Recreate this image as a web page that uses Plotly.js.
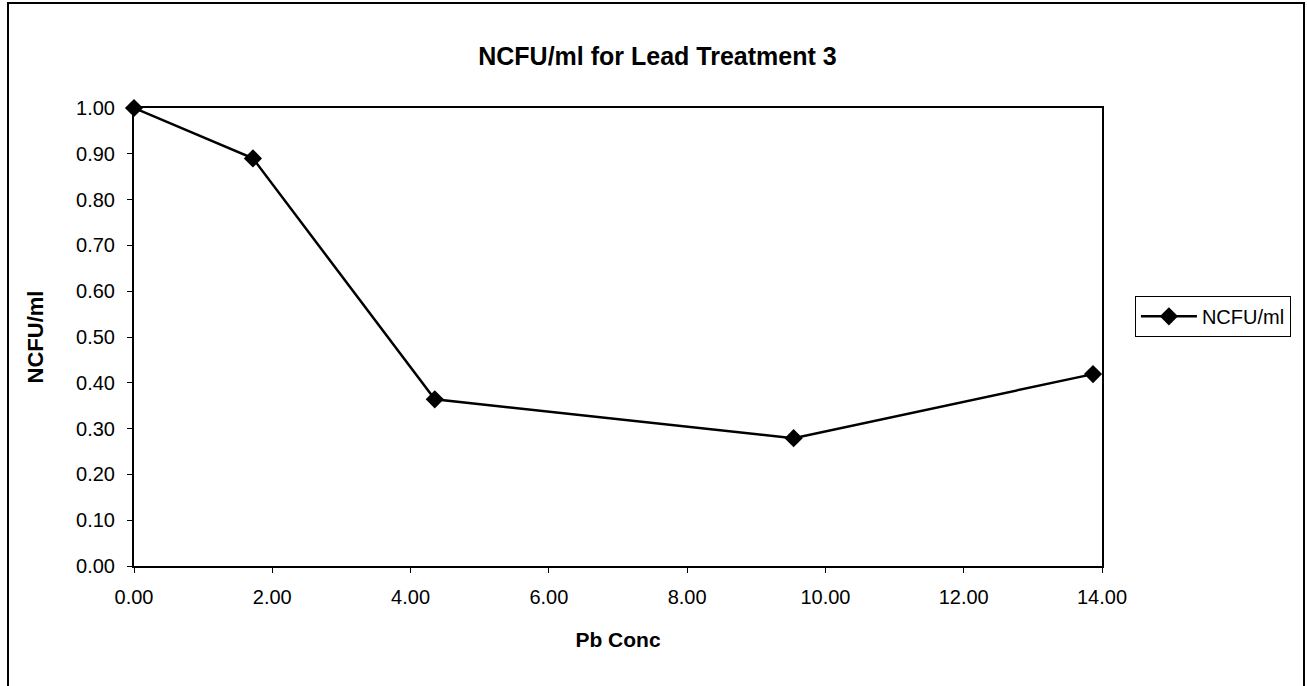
<!DOCTYPE html>
<html>
<head>
<meta charset="utf-8">
<script src="https://cdn.plot.ly/plotly-3.0.1.min.js"></script>
<style>html,body{margin:0;padding:0;background:#fff;}#chart{width:1307px;height:686px;}</style>
</head>
<body>
<div id="chart"></div>
<script>
const seriesName = "NCFU/ml";
const pbConc = [0.00, 1.72, 4.35, 9.54, 13.87];
const ncfu = [1.00, 0.89, 0.364, 0.279, 0.419];
const chartTitle = "NCFU/ml for Lead Treatment 3";
const xTitle = "Pb Conc";
const yTitle = "NCFU/ml";

const FONT = '"Liberation Sans", Arial, sans-serif';

const trace = {
  x: pbConc, y: ncfu, type: 'scatter', mode: 'lines+markers', name: seriesName,
  line: {color: '#000', width: 2.5},
  marker: {symbol: 'diamond', size: 14, color: '#000'},
  cliponaxis: false
};

const layout = {
  width: 1307, height: 686,
  margin: {l: 134, r: 205, t: 108, b: 120},
  paper_bgcolor: '#fff', plot_bgcolor: '#fff',
  font: {family: FONT, color: '#000', size: 20},
  title: {text: '<b>' + chartTitle + '</b>', font: {family: FONT, size: 25, color: '#000'},
          xref: 'container', x: 0.503, xanchor: 'center', yref: 'container', y: 0.918, yanchor: 'middle'},
  xaxis: {
    range: [0, 14], dtick: 2, tick0: 0, tickformat: '.2f',
    showgrid: false, zeroline: false, showline: true, mirror: true, linecolor: '#000', linewidth: 2,
    ticks: 'outside', ticklen: 5, tickcolor: '#000', tickwidth: 1,
    ticklabelstandoff: 7,
    tickfont: {family: FONT, size: 20, color: '#000'},
    title: {text: '<b>' + xTitle + '</b>', font: {family: FONT, size: 21, color: '#000'}, standoff: 25}
  },
  yaxis: {
    range: [0, 1], dtick: 0.1, tick0: 0, tickformat: '.2f',
    showgrid: false, zeroline: false, showline: true, mirror: true, linecolor: '#000', linewidth: 2,
    ticks: 'outside', ticklen: 5, tickcolor: '#000', tickwidth: 1,
    ticklabelstandoff: 8,
    tickfont: {family: FONT, size: 20, color: '#000'},
    title: {text: '<b>' + yTitle + '</b>', font: {family: FONT, size: 22, color: '#000'}, standoff: 26}
  },
  showlegend: true,
  legend: {
    x: 1.034, y: 0.59, xanchor: 'left', yanchor: 'top',
    bordercolor: '#000', borderwidth: 1, bgcolor: '#fff',
    font: {family: FONT, size: 20, color: '#000'},
    itemwidth: 56
  },
  shapes: [{
    type: 'rect', xref: 'paper', yref: 'paper',
    x0: (8 - 134) / 968, x1: (1304 - 134) / 968,
    y0: (566 - 690) / 458, y1: (566 - 3) / 458,
    line: {color: '#000', width: 2}, fillcolor: 'rgba(0,0,0,0)', layer: 'below'
  }]
};

Plotly.newPlot('chart', [trace], layout, {displayModeBar: false, staticPlot: true});
</script>
</body>
</html>
